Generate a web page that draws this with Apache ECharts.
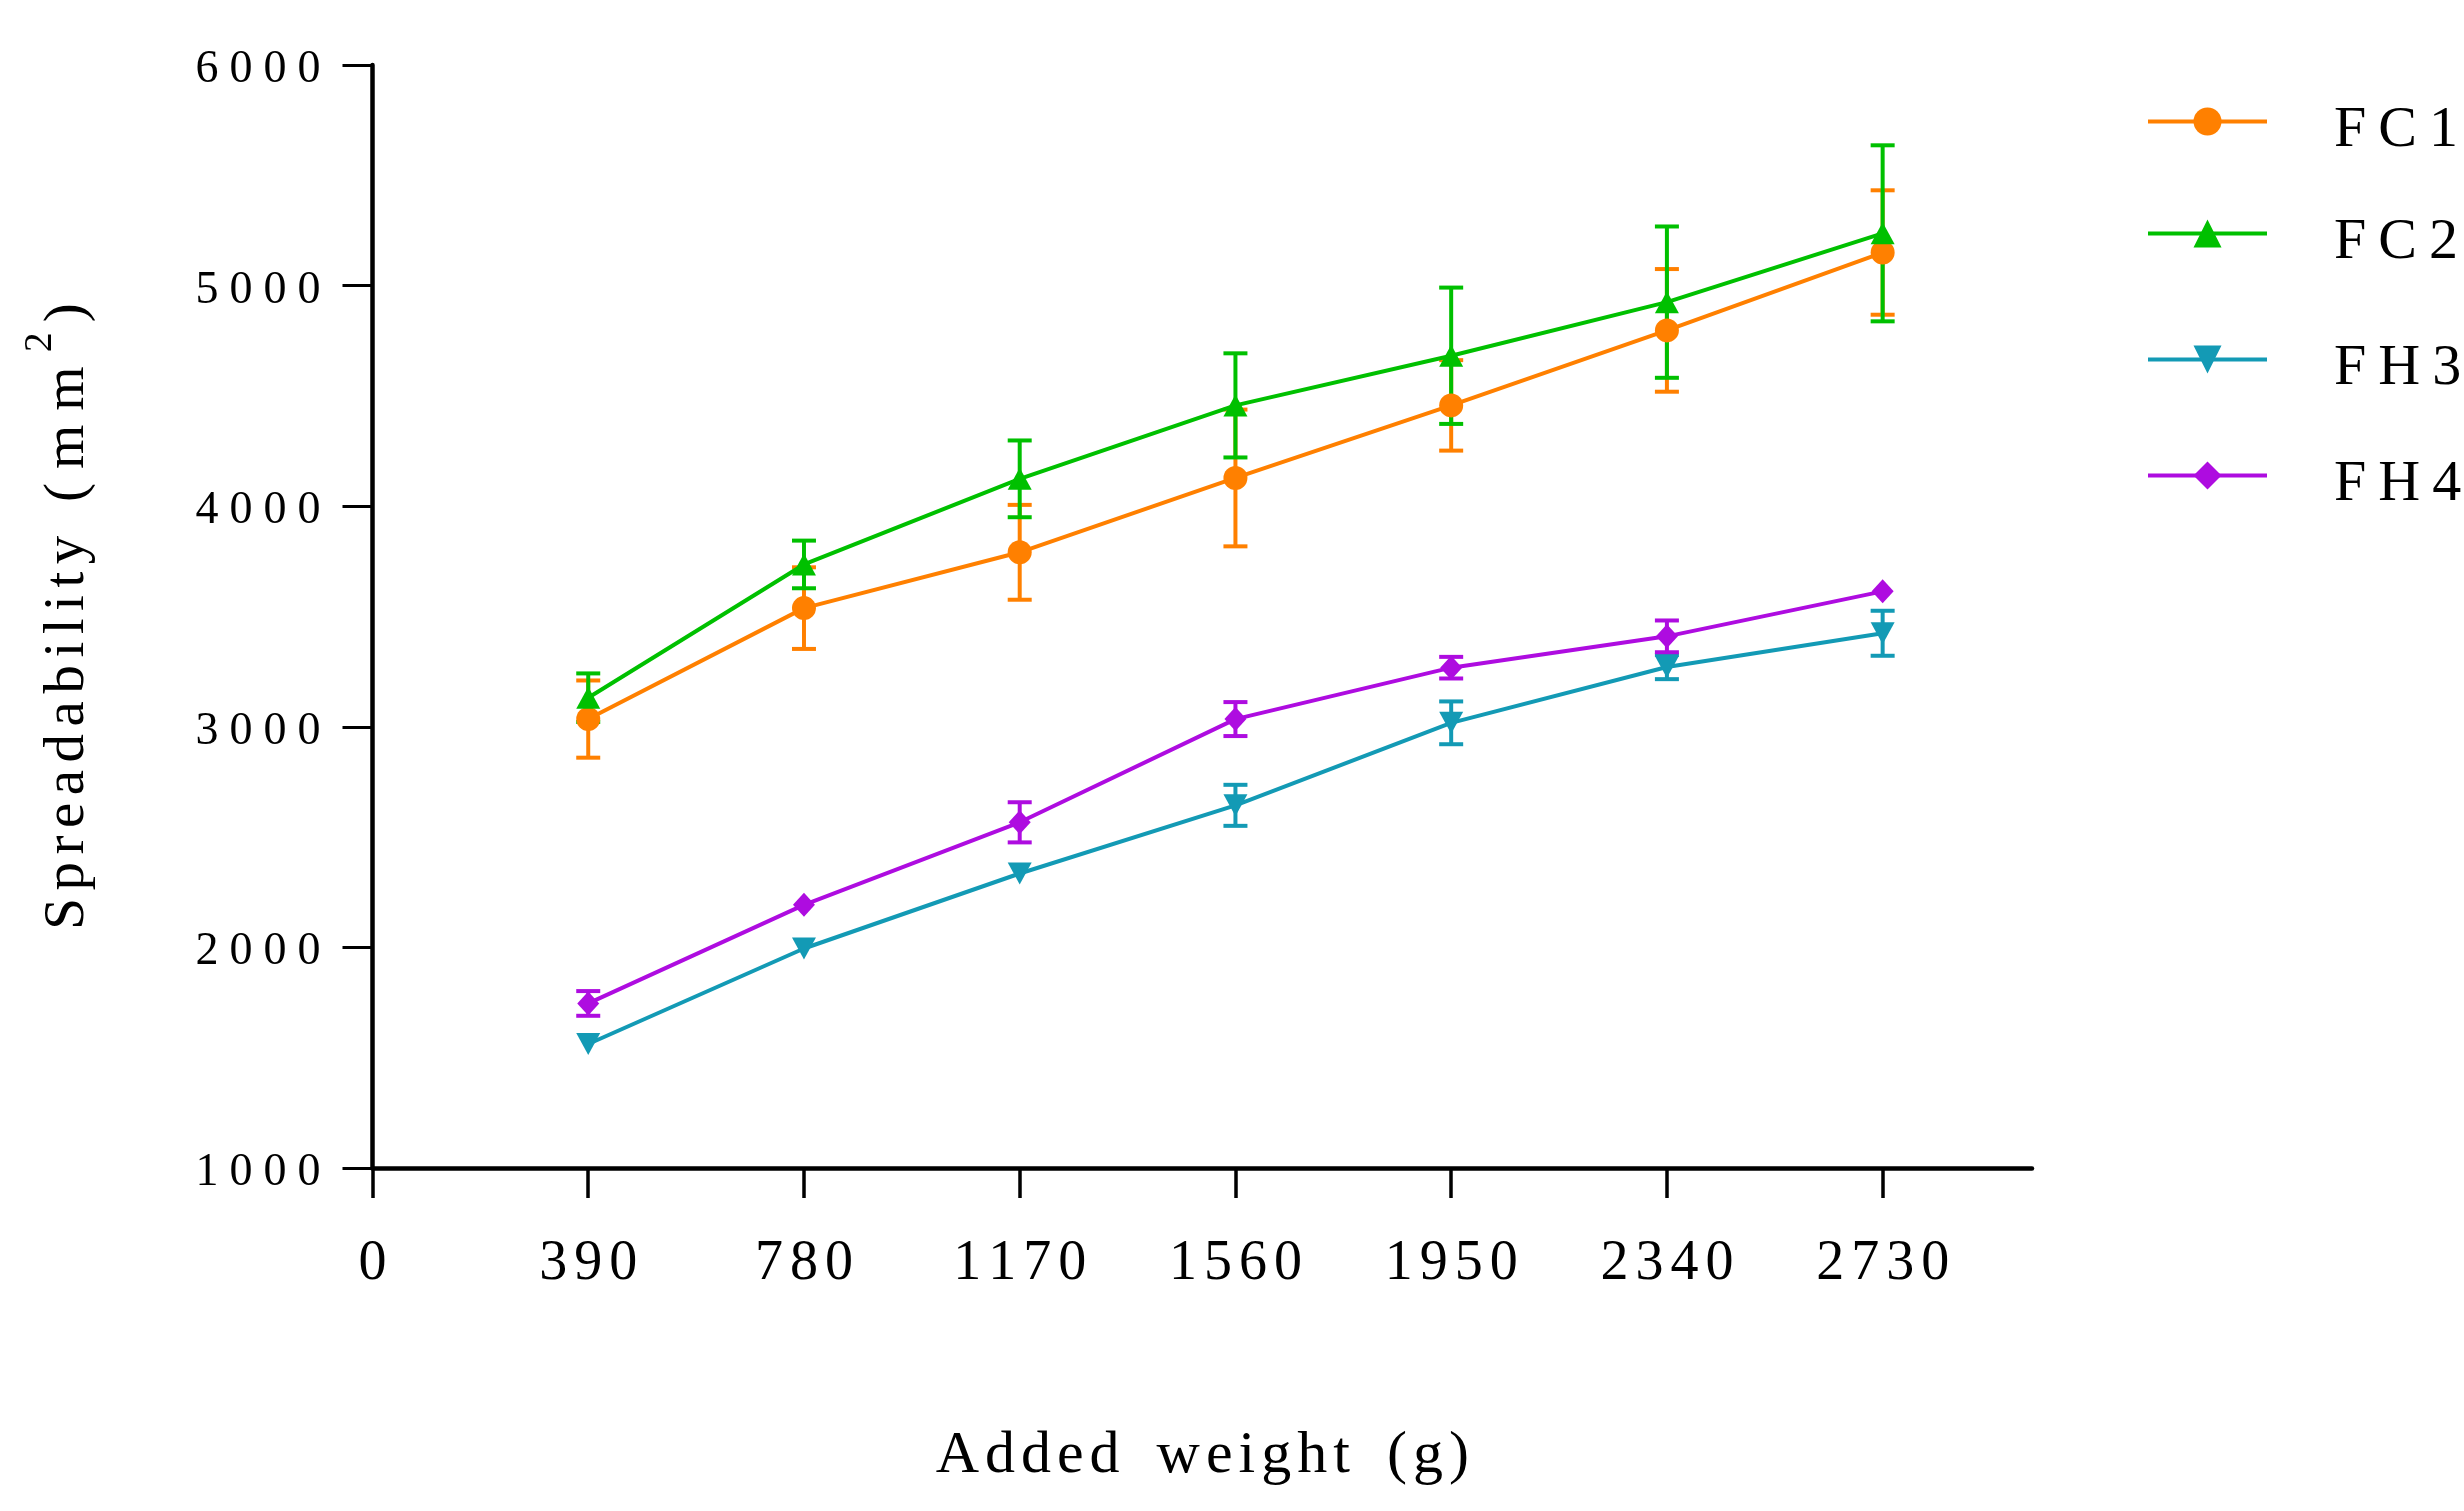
<!DOCTYPE html>
<html><head><meta charset="utf-8">
<script src="https://cdn.jsdelivr.net/npm/echarts@6/dist/echarts.min.js"></script>
<style>html,body{margin:0;padding:0;background:#fff}#c{width:2464px;height:1511px}</style>
</head><body><div id="c"></div>
<script>
const weights = [390, 780, 1170, 1560, 1950, 2340, 2730];
const xTicks = [0, 390, 780, 1170, 1560, 1950, 2340, 2730];
const seriesNames = ['FC1', 'FC2', 'FH3', 'FH4'];
const fc1 = [3035, 3538, 3791, 4128, 4457, 4797, 5150];
const fc1Err = [175, 185, 215, 310, 205, 278, 282];
const fc2 = [3132, 3736, 4124, 4457, 4682, 4925, 5237];
const fc2Err = [110, 108, 174, 236, 309, 343, 399];
const fh3 = [1562, 1995, 2335, 2644, 3018, 3271, 3424];
const fh3Err = [0, 0, 0, 93, 97, 55, 102];
const fh4 = [1746, 2193, 2567, 3035, 3268, 3410, 3614];
const fh4Err = [56, 0, 91, 77, 49, 72, 0];
const xTitle = 'Added weight (g)';
const yTitleWord = 'Spreadability';
const yTitleUnit = '(mm';
const colors = ['#FF8000', '#00C000', '#139AB5', '#AE0CE0'];

const FONT = "'Liberation Serif', 'Times New Roman', serif";
// letter-spaced rich text: every char but last uses style g (with right padding), last uses e
function lspace(s, g, e, wordKey) {
  const chars = s.split('');
  return chars.map((c, i) => {
    if (c === ' ' && wordKey) return '{' + wordKey + '| }';
    return '{' + (i === chars.length - 1 ? e : g) + '|' + c + '}';
  }).join('');
}

function lineSeries(name, vals, color, symbol, size, rotate) {
  return {
    type: 'line', name: name, z: 3,
    data: weights.map((w, i) => [w, vals[i]]),
    symbol: symbol, symbolSize: size, symbolRotate: rotate || 0,
    lineStyle: { color: color, width: 4 },
    itemStyle: { color: color },
    emphasis: { disabled: true }
  };
}
function errSeries(name, vals, errs, color) {
  return {
    type: 'custom', name: name + ' err', z: 2, silent: true,
    data: weights.map((w, i) => [w, vals[i] - errs[i], vals[i] + errs[i], errs[i]]),
    encode: { x: 0, y: [1, 2] },
    renderItem: function (params, api) {
      const e = api.value(3);
      if (!e) return { type: 'group', children: [] };
      const x = api.value(0);
      const lo = api.coord([x, api.value(1)]);
      const hi = api.coord([x, api.value(2)]);
      const hw = 12;
      const st = { stroke: color, lineWidth: 4 };
      return { type: 'group', children: [
        { type: 'line', shape: { x1: lo[0], y1: lo[1], x2: hi[0], y2: hi[1] }, style: st },
        { type: 'line', shape: { x1: lo[0] - hw, y1: lo[1], x2: lo[0] + hw, y2: lo[1] }, style: st },
        { type: 'line', shape: { x1: hi[0] - hw, y1: hi[1], x2: hi[0] + hw, y2: hi[1] }, style: st }
      ]};
    }
  };
}

const legendRows = [119, 231, 357, 473];
const LEG_H = 35;
const legends = seriesNames.map((n, i) => ({
  data: [n], left: 2146, top: legendRows[i] - LEG_H / 2, orient: 'vertical', padding: 0,
  itemWidth: 119, itemHeight: LEG_H, selectedMode: false,
  lineStyle: { width: 4 },
  formatter: function (name) {
    return '{f|' + name[0] + '}' + lspace(name.slice(1), 'g', 'e');
  },
  textStyle: {
    fontFamily: FONT, fontSize: 58, color: '#000',
    rich: {
      f: { fontFamily: FONT, fontSize: 58, color: '#000', padding: [18, 12, 0, 62] },
      g: { fontFamily: FONT, fontSize: 58, color: '#000', padding: [18, 12, 0, 0] },
      e: { fontFamily: FONT, fontSize: 58, color: '#000', padding: [18, 0, 0, 0] }
    }
  }
}));

const chart = echarts.init(document.getElementById('c'));
chart.setOption({
  animation: false,
  backgroundColor: '#fff',
  legend: legends,
  grid: { left: 372.5, right: 432, top: 65, bottom: 343, containLabel: false },
  xAxis: {
    type: 'value', min: 0, max: 3000,
    name: lspace(xTitle, 'g', 'e', 'w'),
    nameLocation: 'middle', nameGap: 258,
    nameTextStyle: {
      fontFamily: FONT, fontSize: 60, color: '#000', lineHeight: 60,
      rich: {
        g: { fontFamily: FONT, fontSize: 60, color: '#000', lineHeight: 60, padding: [0, 6, 0, 0] },
        e: { fontFamily: FONT, fontSize: 60, color: '#000', lineHeight: 60 },
        w: { fontFamily: FONT, fontSize: 60, color: '#000', lineHeight: 60, padding: [0, 16, 0, 0] }
      }
    },
    axisLine: { onZero: false, lineStyle: { color: '#000', width: 4.5 } },
    axisTick: { length: 30, customValues: xTicks, lineStyle: { color: '#000', width: 3.5 } },
    axisLabel: {
      customValues: xTicks, margin: 68, fontFamily: FONT, fontSize: 56, color: '#000',
      formatter: function (v) { return lspace(String(v), 'g', 'e'); },
      rich: {
        g: { fontFamily: FONT, fontSize: 56, color: '#000', lineHeight: 56, padding: [0, 7, 0, 0] },
        e: { fontFamily: FONT, fontSize: 56, color: '#000', lineHeight: 56 }
      }
    },
    splitLine: { show: false }
  },
  yAxis: {
    type: 'value', min: 1000, max: 6000, interval: 1000,
    name: lspace(yTitleWord, 'g', 'g') + '{w| }' + lspace(yTitleUnit, 'm', 'm') + '{s|2}{e|)}',
    nameLocation: 'middle', nameGap: 276, nameRotate: 90,
    nameTextStyle: {
      fontFamily: FONT, fontSize: 57, color: '#000',
      rich: {
        g: { fontFamily: FONT, fontSize: 57, color: '#000', lineHeight: 57, padding: [0, 7.5, 0, 0] },
        m: { fontFamily: FONT, fontSize: 57, color: '#000', lineHeight: 57, padding: [0, 14, 0, 0] },
        e: { fontFamily: FONT, fontSize: 57, color: '#000', lineHeight: 57 },
        w: { fontFamily: FONT, fontSize: 57, color: '#000', lineHeight: 57, padding: [0, 12, 0, 0] },
        s: { fontFamily: FONT, fontSize: 40, color: '#000', lineHeight: 40, padding: [0, 10, 56, 0] }
      }
    },
    axisLine: { onZero: false, lineStyle: { color: '#000', width: 4.5 } },
    axisTick: { length: 30, lineStyle: { color: '#000', width: 3 } },
    axisLabel: {
      margin: 52, fontFamily: FONT, fontSize: 46, color: '#000',
      formatter: function (v) { return lspace(String(v), 'g', 'e'); },
      rich: {
        g: { fontFamily: FONT, fontSize: 46, color: '#000', lineHeight: 46, padding: [10, 11, 0, 0] },
        e: { fontFamily: FONT, fontSize: 46, color: '#000', lineHeight: 46, padding: [10, 0, 0, 0] }
      }
    },
    splitLine: { show: false }
  },
  series: [
    errSeries('FC1', fc1, fc1Err, colors[0]),
    errSeries('FC2', fc2, fc2Err, colors[1]),
    errSeries('FH3', fh3, fh3Err, colors[2]),
    errSeries('FH4', fh4, fh4Err, colors[3]),
    lineSeries('FC1', fc1, colors[0], 'circle', 24),
    lineSeries('FC2', fc2, colors[1], 'triangle', [24, 22]),
    lineSeries('FH3', fh3, colors[2], 'triangle', [24, 22], 180),
    lineSeries('FH4', fh4, colors[3], 'diamond', [22, 24])
  ]
});
</script></body></html>
